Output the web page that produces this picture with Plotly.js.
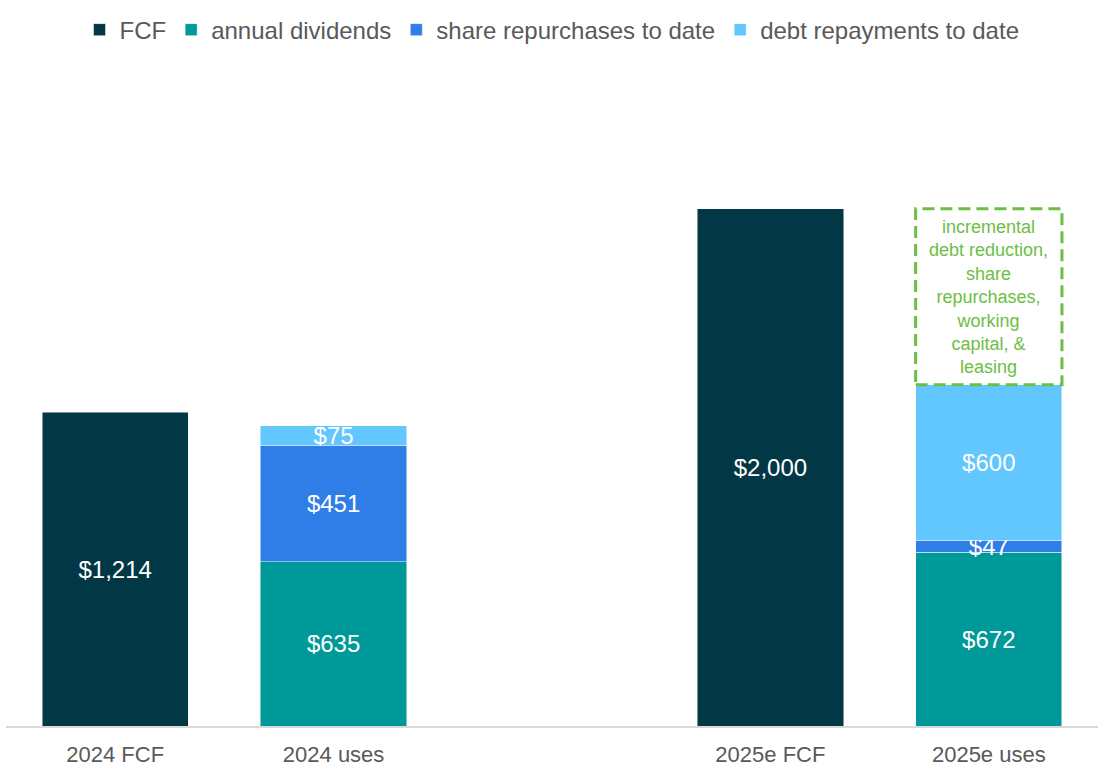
<!DOCTYPE html>
<html>
<head>
<meta charset="utf-8">
<script src="https://cdn.plot.ly/plotly-3.0.1.min.js"></script>
<style>html,body{margin:0;padding:0;background:#fff}#chart{width:1101px;height:770px}</style>
</head>
<body>
<div id="chart"></div>
<script>
// Data
const categories = ['2024 FCF', '2024 uses', '', '2025e FCF', '2025e uses'];
const fcf = [1214, null, null, 2000, null];
const annualDividends = [null, 635, null, null, 672];
const shareRepurchases = [null, 451, null, null, 47];
const debtRepayments = [null, 75, null, null, 600];
const boxText = 'incremental<br>debt reduction,<br>share<br>repurchases,<br>working<br>capital, &<br>leasing';

const xs = categories.map((c, i) => i);
const tickIdx = xs.filter(i => categories[i] !== '');
const barWidth = 0.67;

const font = 'Liberation Sans, Arial, sans-serif';
const colors = {
  fcf: '#023745',
  div: '#00999A',
  rep: '#2F7DE6',
  debt: '#62C6FF'
};

function trace(name, vals, color) {
  return {
    type: 'bar', name: name, x: xs, y: vals, width: barWidth,
    marker: {color: color, line: {color: 'rgba(255,255,255,0.6)', width: 0.8}},
    texttemplate: '$%{y:,}', textposition: 'inside', insidetextanchor: 'middle',
    textfont: {color: '#ffffff', size: 24, family: font},
    constraintext: 'none', hoverinfo: 'skip', cliponaxis: false
  };
}

const data = [
  trace('FCF', fcf, colors.fcf),
  trace('annual dividends', annualDividends, colors.div),
  trace('share repurchases to date', shareRepurchases, colors.rep),
  trace('debt repayments to date', debtRepayments, colors.debt)
];

// incremental box for 2025e uses: from sum of uses up to 2025e FCF
const iUses = 4, iFcf = 3;
const usedSum = annualDividends[iUses] + shareRepurchases[iUses] + debtRepayments[iUses];
const boxTop = fcf[iFcf];

const layout = {
  width: 1101, height: 770,
  margin: {l: 6, r: 3, t: 60, b: 44},
  paper_bgcolor: '#fff', plot_bgcolor: '#fff',
  barmode: 'stack',
  showlegend: true,
  legend: {orientation: 'h', x: 0.5, xanchor: 'center', y: 1.045, yanchor: 'middle',
    font: {size: 24, color: '#595959', family: font}, itemwidth: 30, tracegroupgap: 0,
    traceorder: 'normal'},
  uniformtext: {mode: 'show', minsize: 24},
  xaxis: {range: [-0.5, 4.5], tickvals: tickIdx, ticktext: tickIdx.map(i => categories[i]),
    showgrid: false, zeroline: false, showline: true, linecolor: '#D9D9D9', linewidth: 2,
    ticks: '', ticklabelstandoff: 8,
    tickfont: {size: 22, color: '#595959', family: font}, fixedrange: true},
  yaxis: {range: [0, 2575], visible: false, showgrid: false, zeroline: false, fixedrange: true},
  shapes: [{
    type: 'rect', xref: 'x', yref: 'y',
    x0: iUses - barWidth / 2, x1: iUses + barWidth / 2, y0: usedSum, y1: boxTop,
    line: {color: '#6CBE45', width: 3, dash: '12px,6px'}, fillcolor: 'rgba(0,0,0,0)'
  }],
  annotations: [{
    xref: 'x', yref: 'y', x: iUses, y: (usedSum + boxTop) / 2,
    text: boxText, showarrow: false, align: 'center',
    font: {size: 18, color: '#6CBE45', family: font}
  }]
};

Plotly.newPlot('chart', data, layout, {displayModeBar: false, staticPlot: true});
</script>
</body>
</html>
